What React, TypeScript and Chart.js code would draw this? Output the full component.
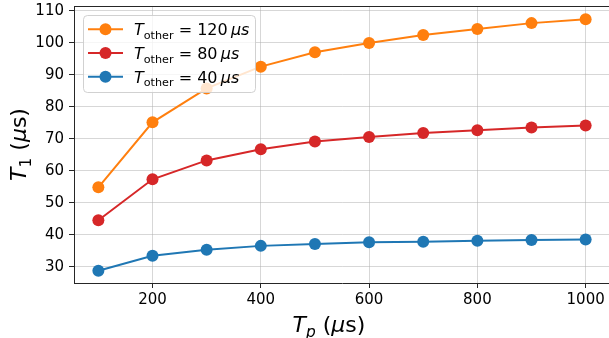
import { useEffect, useRef } from "react";
import { Chart, registerables } from "chart.js";

Chart.register(...registerables);

// ---- data ----
const tpValues = [100, 200, 300, 400, 500, 600, 700, 800, 900, 1000];
const tOtherValues = [120, 80, 40];
const t1Other120 = [54.8, 75.1, 85.7, 92.5, 97.0, 99.9, 102.4, 104.3, 106.1, 107.3];
const t1Other80 = [44.5, 57.3, 63.2, 66.7, 69.1, 70.5, 71.8, 72.6, 73.5, 74.1];
const t1Other40 = [28.75, 33.4, 35.3, 36.5, 37.1, 37.6, 37.8, 38.1, 38.3, 38.5];
const seriesColors = ["#ff7f0e", "#d62728", "#1f77b4"];
const xTicks = [200, 400, 600, 800, 1000];
const yTicks = [30, 40, 50, 60, 70, 80, 90, 100, 110];
const xRange = [55, 1045];
const yRange = [24.9, 111.45];

const FONT = '"DejaVu Sans", sans-serif';
const INK = "#262626";

type Seg = { t: string; italic?: boolean; sub?: boolean };

function drawRich(ctx: CanvasRenderingContext2D, segs: Seg[], x: number, y: number, size: number, align: "left" | "center") {
  const fontOf = (s: Seg) => `${s.italic ? "italic " : ""}${s.sub ? size * 0.7 : size}px ${FONT}`;
  let w = 0;
  for (const s of segs) {
    ctx.font = fontOf(s);
    w += ctx.measureText(s.t).width;
  }
  let cx = align === "center" ? x - w / 2 : x;
  ctx.textAlign = "left";
  ctx.textBaseline = "alphabetic";
  for (const s of segs) {
    ctx.font = fontOf(s);
    ctx.fillText(s.t, cx, y + (s.sub ? size * 0.22 : 0));
    cx += ctx.measureText(s.t).width;
  }
}

const decorPlugin = {
  id: "decor",
  afterDraw(chart: any) {
    const { ctx, chartArea: a } = chart;
    ctx.save();
    // top spine
    ctx.strokeStyle = INK;
    ctx.lineWidth = 1;
    ctx.beginPath();
    ctx.moveTo(a.left, Math.round(a.top) + 0.5);
    ctx.lineTo(a.right, Math.round(a.top) + 0.5);
    ctx.stroke();

    // axis titles
    ctx.fillStyle = "#000";
    drawRich(
      ctx,
      [{ t: "T", italic: true }, { t: "p", italic: true, sub: true }, { t: " (" }, { t: "μ", italic: true }, { t: "s)" }],
      a.left + (a.right - a.left) / 2 - 13,
      a.bottom + 49,
      22,
      "center"
    );
    ctx.save();
    ctx.translate(26, (a.top + a.bottom) / 2);
    ctx.rotate(-Math.PI / 2);
    drawRich(
      ctx,
      [{ t: "T", italic: true }, { t: "1", sub: true }, { t: " (" }, { t: "μ", italic: true }, { t: "s)" }],
      0,
      0,
      22,
      "center"
    );
    ctx.restore();

    // legend
    const bx = a.left + 9;
    const by = a.top + 9;
    const bw = 172;
    const bh = 77;
    ctx.beginPath();
    ctx.roundRect(bx + 0.5, by + 0.5, bw, bh, 4);
    ctx.fillStyle = "rgba(255,255,255,0.8)";
    ctx.fill();
    ctx.strokeStyle = "rgba(204,204,204,0.9)";
    ctx.lineWidth = 1;
    ctx.stroke();

    chart.data.datasets.forEach((ds: any, i: number) => {
      const ry = by + 14.3 + i * 23.7;
      ctx.strokeStyle = ds.borderColor;
      ctx.lineWidth = 2;
      ctx.beginPath();
      ctx.moveTo(bx + 5, ry);
      ctx.lineTo(bx + 40, ry);
      ctx.stroke();
      ctx.fillStyle = ds.borderColor;
      ctx.beginPath();
      ctx.arc(bx + 22.5, ry, 6, 0, Math.PI * 2);
      ctx.fill();
      ctx.fillStyle = "#000";
      drawRich(
        ctx,
        [
          { t: "T", italic: true },
          { t: "other", sub: true },
          { t: ` = ${tOtherValues[i]}\u2009` },
          { t: "μs", italic: true },
        ],
        bx + 51,
        ry + 6,
        16,
        "left"
      );
    });
    ctx.restore();
  },
};

export default function App() {
  const ref = useRef<HTMLCanvasElement | null>(null);

  useEffect(() => {
    if (!ref.current) return;
    const series = [t1Other120, t1Other80, t1Other40];
    const chart = new Chart(ref.current, {
      type: "line",
      data: {
        datasets: series.map((vals, i) => ({
          label: `T_other = ${tOtherValues[i]} μs`,
          data: tpValues.map((x, j) => ({ x, y: vals[j] })),
          borderColor: seriesColors[i],
          backgroundColor: seriesColors[i],
          pointBackgroundColor: seriesColors[i],
          pointBorderWidth: 0,
          pointRadius: 6,
          borderWidth: 2,
          tension: 0,
        })),
      },
      options: {
        responsive: false,
        animation: false,
        devicePixelRatio: 1,
        layout: { autoPadding: false, padding: { top: 6, right: 0, left: 0, bottom: 0 } },
        plugins: { legend: { display: false }, tooltip: { enabled: false } },
        scales: {
          x: {
            type: "linear",
            min: xRange[0],
            max: xRange[1],
            afterBuildTicks: (s: any) => {
              s.ticks = xTicks.map((v) => ({ value: v }));
            },
            afterFit: (s: any) => {
              s.height = 55;
              s.paddingLeft = 0;
              s.paddingRight = 0;
            },
            ticks: {
              font: { family: FONT, size: 15 },
              color: "#000",
              padding: 3,
              maxRotation: 0,
              autoSkip: false,
              callback: (v: any) => String(v),
            },
            grid: { color: "rgba(176,176,176,0.5)", tickColor: INK, tickLength: 5, lineWidth: 1 },
            border: { color: INK, width: 1 },
          },
          y: {
            type: "linear",
            min: yRange[0],
            max: yRange[1],
            afterBuildTicks: (s: any) => {
              s.ticks = yTicks.map((v) => ({ value: v }));
            },
            afterFit: (s: any) => {
              s.width = 74;
              s.paddingTop = 0;
              s.paddingBottom = 0;
            },
            ticks: {
              font: { family: FONT, size: 15 },
              color: "#000",
              padding: 5,
              autoSkip: false,
              callback: (v: any) => String(v),
            },
            grid: { color: "rgba(176,176,176,0.5)", tickColor: INK, tickLength: 5, lineWidth: 1 },
            border: { color: INK, width: 1 },
          },
        },
      },
      plugins: [decorPlugin],
    });
    return () => chart.destroy();
  }, []);

  return (
    <div style={{ position: "fixed", left: 0, top: 0, width: 609, height: 338, overflow: "hidden", background: "#fff" }}>
      <canvas ref={ref} width={610} height={338} style={{ display: "block" }} />
    </div>
  );
}
